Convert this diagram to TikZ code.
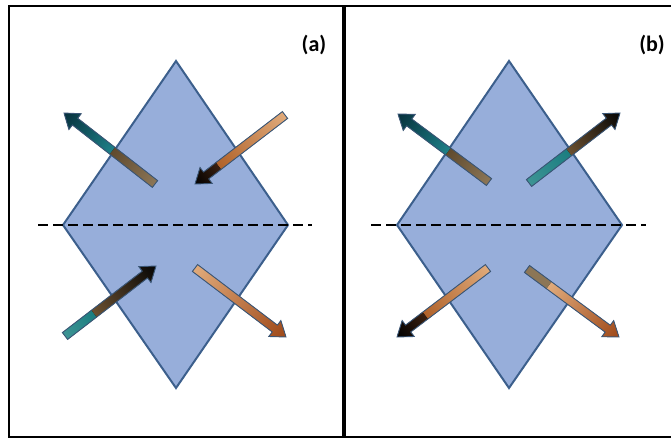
\documentclass[tikz,border=0pt]{standalone}
\usepackage{fontspec}
\newfontfamily\labfont{Carlito}
\definecolor{dblue}{HTML}{3C5F8C}
\definecolor{dfill}{HTML}{97AEDA}
\definecolor{aline}{HTML}{3A5676}
\definecolor{gbA}{HTML}{8C7656}
\definecolor{gbB}{HTML}{5F4A2E}
\definecolor{tlA}{HTML}{1E8088}
\definecolor{tlB}{HTML}{06303C}
\definecolor{tnA}{HTML}{E0AA7A}
\definecolor{tnB}{HTML}{B0622A}
\definecolor{dkA}{HTML}{3A2010}
\definecolor{dkB}{HTML}{000000}
\definecolor{tqA}{HTML}{3D9494}
\definecolor{tqB}{HTML}{1B7D80}
\definecolor{brA}{HTML}{6B5030}
\definecolor{brB}{HTML}{050505}
\definecolor{orB}{HTML}{9E4818}
\newcommand\garrow[5]{%
 \pgfmathsetmacro\gdx{#3-#1}%
 \pgfmathsetmacro\gdy{#4-#2}%
 \pgfmathsetmacro\gL{veclen(\gdx,\gdy)}%
 \pgfmathsetmacro\gang{atan2(-\gdy,\gdx)}%
 \pgfmathsetmacro\gH{\gL-14}%
 \begin{scope}[transform canvas={shift={(#1,#2)},rotate=\gang}]
  \begin{scope}
   \clip (0,-4.3) -- (\gH,-4.3) -- (\gH,-10) -- (\gL,0) -- (\gH,10) -- (\gH,4.3) -- (0,4.3) -- cycle;
   \foreach \sa/\sb/\ca/\cb in {#5} {\fill[left color=\ca,right color=\cb] ({\sa*\gL},-12) rectangle ({\sb*\gL+0.5},12);}
  \end{scope}
  \draw[arrowline] (0,-4.3) -- (\gH,-4.3) -- (\gH,-10) -- (\gL,0) -- (\gH,10) -- (\gH,4.3) -- (0,4.3) -- cycle;
 \end{scope}}
\begin{document}
\begin{tikzpicture}[x=1pt,y=-1pt,
  frame/.style={draw=black,line width=2.6pt},
  diam/.style={draw=dblue,fill=dfill,line width=2pt,line join=miter},
  axisline/.style={draw=black,line width=2pt,dash pattern=on 10pt off 5pt},
  arrowline/.style={draw=aline,line width=0.9pt,line join=miter},
  lab/.style={font=\labfont\bfseries\fontsize{22}{26}\selectfont,text=black,inner sep=0pt}]
\useasboundingbox (0,0) rectangle (671,440);
\draw[frame] (9,6) rectangle (343.4,437);
\draw[frame] (344.8,6) rectangle (700,437);
% panel (a)
\draw[diam] (176,61) -- (288,225) -- (176,388) -- (63,225) -- cycle;
\draw[axisline] (38,225) -- (312,225);
\garrow{155}{184}{64}{113}{0/0.47/gbA/gbB, 0.47/1/tlA/tlB}
\garrow{285}{115}{195}{184}{0/0.74/tnA/tnB, 0.74/1/dkA/dkB}
\garrow{65}{336}{156}{266}{0/0.32/tqA/tqB, 0.32/1/brA/brB}
\garrow{195}{268}{286}{337}{0/1/tnA/orB}
\node[lab] (laba) at (314,45) {(a)};
% panel (b)
\draw[diam] (509,61) -- (622,225) -- (509,388) -- (397,225) -- cycle;
\draw[axisline] (371,225) -- (646,225);
\garrow{489}{182}{398}{114}{0/0.45/gbA/gbB, 0.45/1/tlA/tlB}
\garrow{529}{183}{620}{113}{0/0.44/tqA/tqB, 0.44/1/brA/brB}
\garrow{488}{268}{397}{337}{0/0.69/tnA/tnB, 0.69/1/dkA/dkB}
\garrow{527}{269}{619}{337}{0/0.24/gbA/gbA, 0.24/1/tnA/orB}
\node[lab] (labb) at (652,45) {(b)};
\end{tikzpicture}
\end{document}
